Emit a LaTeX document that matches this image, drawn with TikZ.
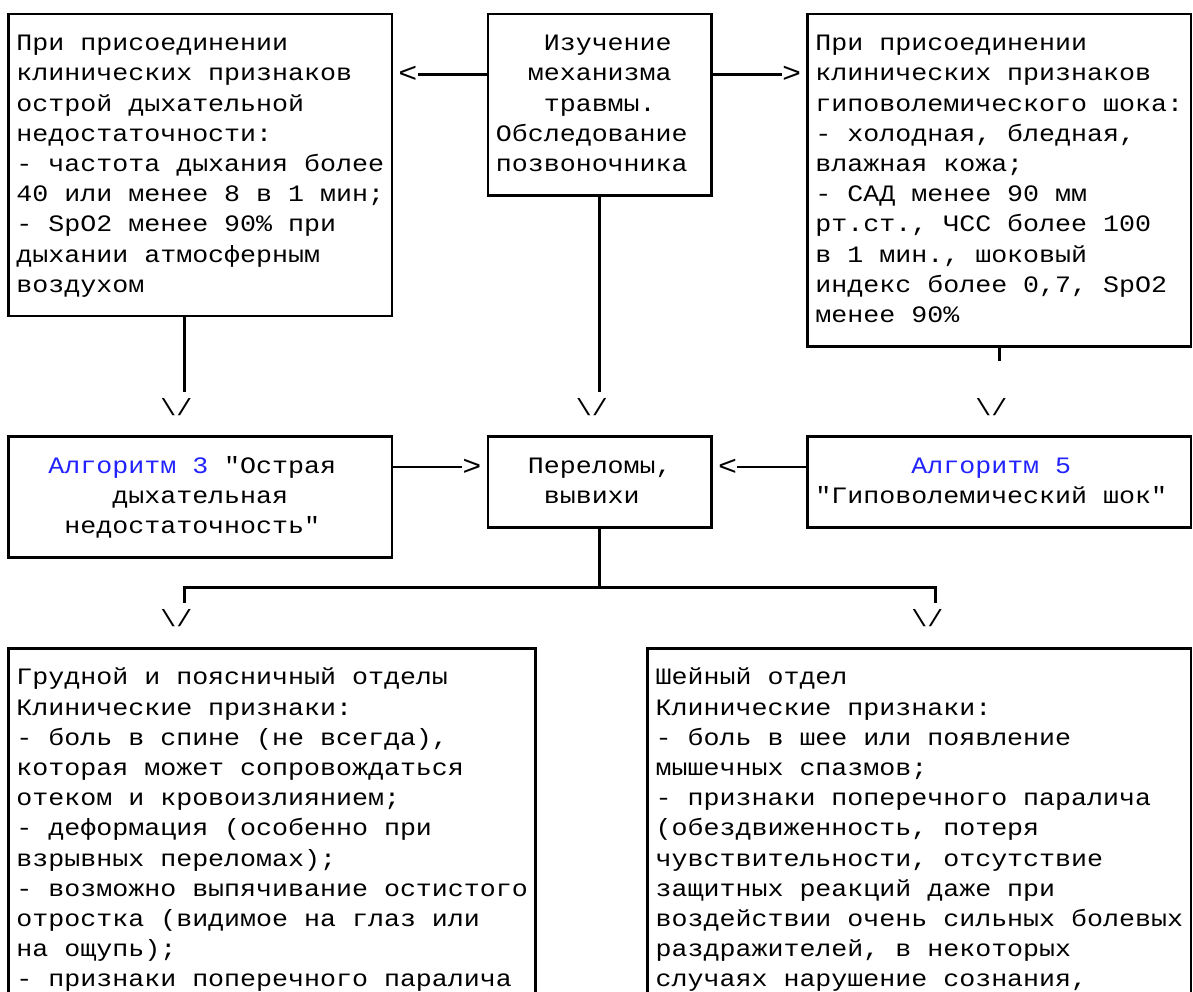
\documentclass[tikz,border=0pt]{standalone}
\usepackage{fontspec}
\newfontfamily\mono[FakeStretch=1.1333]{Liberation Mono}
\definecolor{algblue}{RGB}{34,34,255}
\newdimen\cw \cw=15.98pt
\newcommand\ML[1]{\vtop{\baselineskip=30.2pt\lineskiplimit=-1000pt\lineskip=0pt #1}}
\newcommand\LN[1]{\hbox{#1}}
\newcommand\KN[2]{\hbox{\kern#1\cw #2}}
\tikzset{
  bx/.style={draw=black, line width=2.7pt, rectangle, inner sep=0pt, outer sep=0pt, anchor=north west},
  txt/.style={inner sep=0pt, outer sep=0pt, anchor=base west, font=\mono\fontsize{23.5}{30.2}\selectfont\frenchspacing},
  tip/.style={inner sep=0pt, outer sep=0pt, anchor=center, font=\mono\fontsize{23.5}{30.2}\selectfont},
  chev/.style={inner sep=0pt, outer sep=0pt, anchor=center, font=\mono\fontsize{28}{30.2}\selectfont},
  ln/.style={draw=black, line width=2.7pt}
}
\begin{document}
\begin{tikzpicture}[x=1pt,y=1pt]
\useasboundingbox (0,0) rectangle (1193,-992);
\clip (0,0) rectangle (1193,-992);
% boxes
\node[bx, minimum width=383.52pt, minimum height=302pt] (tl) at (8.5,-14) {};
\node[bx, minimum width=223.72pt, minimum height=181.2pt] (tm) at (487.9,-14) {};
\node[bx, minimum width=383.52pt, minimum height=332.2pt] (tr) at (807.5,-14) {};
\node[bx, minimum width=383.52pt, minimum height=120.8pt] (a3) at (8.5,-436.8) {};
\node[bx, minimum width=223.72pt, minimum height=90.6pt] (mm) at (487.9,-436.8) {};
\node[bx, minimum width=383.52pt, minimum height=90.6pt] (a5) at (807.5,-436.8) {};
\node[bx, minimum width=527.34pt, minimum height=400pt] (bl) at (8.5,-648.2) {};
\node[bx, minimum width=543.32pt, minimum height=400pt] (br) at (647.7,-648.2) {};
% texts
\node[txt] (tlt) at (16.49,-50.7) {\ML{\LN{При присоединении}\LN{клинических признаков}\LN{острой дыхательной}\LN{недостаточности:}\LN{- частота дыхания более}\LN{40 или менее 8 в 1 мин;}\LN{- SpO2 менее 90\% при}\LN{дыхании атмосферным}\LN{воздухом}}};
\node[txt] (tmt) at (495.88,-50.7) {\ML{\KN{3}{Изучение}\KN{2}{механизма}\KN{3}{травмы.}\LN{Обследование}\LN{позвоночника}}};
\node[txt] (trt) at (815.48,-50.7) {\ML{\LN{При присоединении}\LN{клинических признаков}\LN{гиповолемического шока:}\LN{- холодная, бледная,}\LN{влажная кожа;}\LN{- САД менее 90 мм}\LN{рт.ст., ЧСС более 100}\LN{в 1 мин., шоковый}\LN{индекс более 0,7, SpO2}\LN{менее 90\%}}};
\node[txt] (a3t) at (48.44,-473.5) {\ML{\LN{\textcolor{algblue}{Алгоритм 3} "Острая}\KN{4}{дыхательная}\KN{1}{недостаточность"}}};
\node[txt] (mmt) at (527.84,-473.5) {\ML{\LN{Переломы,}\KN{1}{вывихи}}};
\node[txt] (a5t) at (815.48,-473.5) {\ML{\KN{6}{\textcolor{algblue}{Алгоритм 5}}\LN{"Гиповолемический шок"}}};
\node[txt] (blt) at (16.49,-684.9) {\ML{\LN{Грудной и поясничный отделы}\LN{Клинические признаки:}\LN{- боль в спине (не всегда),}\LN{которая может сопровождаться}\LN{отеком и кровоизлиянием;}\LN{- деформация (особенно при}\LN{взрывных переломах);}\LN{- возможно выпячивание остистого}\LN{отростка (видимое на глаз или}\LN{на ощупь);}\LN{- признаки поперечного паралича}}};
\node[txt] (brt) at (655.68,-684.9) {\ML{\LN{Шейный отдел}\LN{Клинические признаки:}\LN{- боль в шее или появление}\LN{мышечных спазмов;}\LN{- признаки поперечного паралича}\LN{(обездвиженность, потеря}\LN{чувствительности, отсутствие}\LN{защитных реакций даже при}\LN{воздействии очень сильных болевых}\LN{раздражителей, в некоторых}\LN{случаях нарушение сознания,}}};
% arrow tips (printed characters)
\node[chev] (aL) at (408,-74.4) {<};
\node[chev] (aR) at (791.52,-74.4) {>};
\node[chev] (a3r) at (471.92,-467) {>};
\node[chev] (a5l) at (727.6,-467) {<};
\node[tip] (vL) at (176.28,-406.6) {\textbackslash/};
\node[tip] (vM) at (591.76,-406.6) {\textbackslash/};
\node[tip] (vR) at (991.26,-406.6) {\textbackslash/};
\node[tip] (vBL) at (176.28,-618) {\textbackslash/};
\node[tip] (vBR) at (927.34,-618) {\textbackslash/};
% connectors
\draw[ln] (tm.west |- aL.east) -- (aL.east);
\draw[ln] (tm.east |- aR.west) -- (aR.west);
\draw[ln] (a3.east |- a3r.west) -- (a3r.west);
\draw[ln] (a5.west |- a5l.east) -- (a5l.east);
\coordinate (sL) at (184.28,-391.5);
\coordinate (sM) at (599.76,-391.5);
\coordinate (sR) at (999.26,-361.3);
\draw[ln] (tl.south -| sL) -- (sL);
\draw[ln] (tm.south -| sM) -- (sM);
\draw[ln] (tr.south -| sR) -- (sR);
\coordinate (jn) at (599.76,-587.8);
\coordinate (jl) at (184.28,-602.9);
\coordinate (jr) at (935.34,-602.9);
\draw[ln] (mm.south -| jn) -- (jn);
\draw[ln] (jl) |- (jn) -| (jr);
\end{tikzpicture}
\end{document}
